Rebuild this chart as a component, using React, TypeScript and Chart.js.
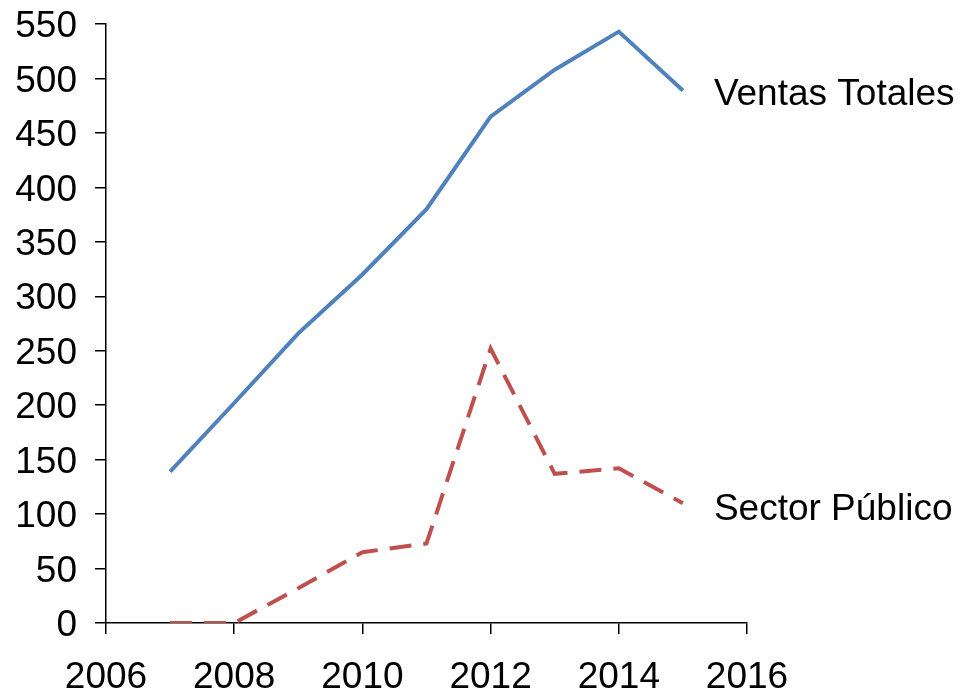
import React, { useEffect, useRef } from "react";
import { Chart, registerables } from "chart.js";

Chart.register(...registerables);

const years = [2007, 2008, 2009, 2010, 2011, 2012, 2013, 2014, 2015];
const ventasTotales = [139, 202, 266, 320, 380, 465, 508, 543, 489];
const sectorPublico = [0, 0, 32, 65, 73, 252, 137, 142, 110];
const seriesNames = ["Ventas Totales", "Sector Público"];

const FONT = "'Liberation Sans', Arial, sans-serif";

const endLabels = {
  id: "endLabels",
  afterDatasetsDraw(chart: any) {
    const ctx = chart.ctx;
    ctx.save();
    ctx.font = `37px ${FONT}`;
    ctx.fillStyle = "#000";
    ctx.textAlign = "left";
    ctx.textBaseline = "middle";
    chart.data.datasets.forEach((ds: any, i: number) => {
      const meta = chart.getDatasetMeta(i);
      const last = meta.data[meta.data.length - 1];
      const dy = i === 0 ? 4 : 7;
      ctx.fillText(ds.label, last.x + 31, last.y + dy);
    });
    ctx.restore();
  },
};

export default function App() {
  const ref = useRef<HTMLCanvasElement>(null);
  useEffect(() => {
    document.body.style.margin = "0";
    const chart = new Chart(ref.current!, {
      type: "line",
      data: {
        datasets: [
          {
            label: seriesNames[0],
            data: years.map((x, i) => ({ x, y: ventasTotales[i] })),
            borderColor: "#4F81BD",
            borderWidth: 4,
            pointRadius: 0,
            tension: 0,
            fill: false,
          },
          {
            label: seriesNames[1],
            data: years.map((x, i) => ({ x, y: sectorPublico[i] })),
            borderColor: "#C0504D",
            borderWidth: 4,
            borderDash: [22, 12],
            pointRadius: 0,
            tension: 0,
            fill: false,
          },
        ],
      },
      options: {
        animation: false,
        responsive: false,
        layout: { padding: { top: 24, right: 214, left: 0, bottom: 0 } },
        plugins: { legend: { display: false }, tooltip: { enabled: false } },
        scales: {
          x: {
            type: "linear",
            min: 2006,
            max: 2016,
            ticks: {
              stepSize: 2,
              color: "#000",
              font: { family: FONT, size: 37 },
              padding: 22,
              maxRotation: 0,
              callback: (v: any) => String(v),
            },
            grid: { drawOnChartArea: false, drawTicks: true, tickLength: 11, color: "#000", lineWidth: 1.5 },
            border: { display: true, color: "#000", width: 1.5 },
            afterFit: (s: any) => { s.height = 69; s.paddingLeft = 0; s.paddingRight = 0; },
          },
          y: {
            type: "linear",
            min: 0,
            max: 550,
            ticks: {
              stepSize: 50,
              color: "#000",
              font: { family: FONT, size: 37 },
              padding: 18,
              labelOffset: 3,
            },
            grid: { drawOnChartArea: false, drawTicks: true, tickLength: 11, color: "#000", lineWidth: 1.5 },
            border: { display: true, color: "#000", width: 1.5 },
            afterFit: (s: any) => { s.width = 106; s.paddingTop = 0; s.paddingBottom = 0; },
          },
        },
      },
      plugins: [endLabels],
    });
    return () => chart.destroy();
  }, []);
  return (
    <div style={{ width: 961, height: 692, background: "#fff" }}>
      <canvas ref={ref} width={961} height={692} style={{ display: "block" }} />
    </div>
  );
}
